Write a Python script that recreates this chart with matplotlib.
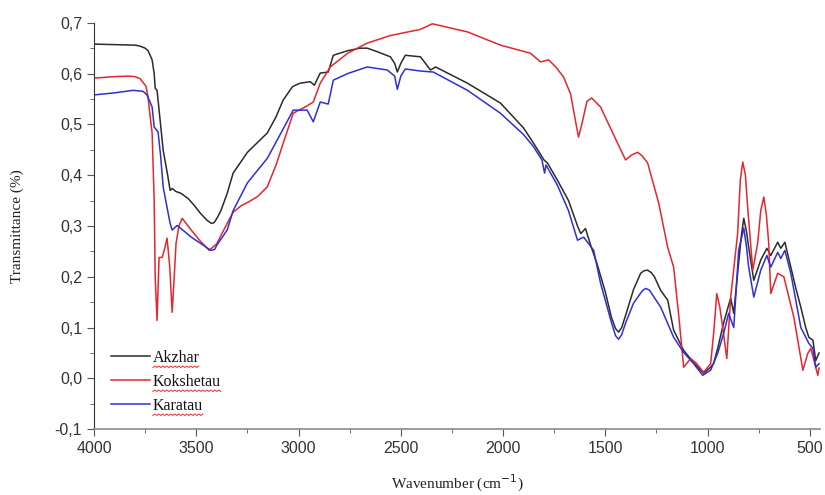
import numpy as np
import matplotlib
matplotlib.use("Agg")
import matplotlib.pyplot as plt
from matplotlib.ticker import MultipleLocator, FuncFormatter

# FTIR spectra of the three clay samples (wavenumber cm-1, transmittance)
wn_akzhar = [4000, 3900, 3800, 3775, 3750, 3736, 3716, 3706, 3701, 3692, 3685, 3662, 3640,
             3628, 3618, 3600, 3574, 3540, 3511, 3480, 3447, 3430, 3422, 3412, 3395, 3380,
             3349, 3320, 3250, 3153, 3110, 3075, 3030, 3000, 2992, 2943, 2923, 2894, 2855,
             2830, 2760, 2700, 2664, 2615, 2551, 2530, 2517, 2500, 2478, 2404, 2355, 2330,
             2174, 2013, 1900, 1851, 1800, 1783, 1734, 1680, 1636, 1620, 1597, 1570, 1540,
             1500, 1470, 1450, 1435, 1420, 1400, 1362, 1327, 1310, 1293, 1275, 1260, 1229,
             1195, 1166, 1117, 1068, 1034, 1019, 985, 970, 950, 921, 900, 887, 872, 853,
             835, 823, 810, 799, 774, 740, 710, 691, 657, 642, 622, 593, 570, 544, 520, 505,
             485, 471, 455]
t_akzhar = [0.658, 0.657, 0.656, 0.654, 0.650, 0.645, 0.627, 0.600, 0.571, 0.567, 0.540,
            0.449, 0.400, 0.370, 0.374, 0.368, 0.364, 0.354, 0.341, 0.325, 0.311, 0.306,
            0.305, 0.307, 0.318, 0.330, 0.364, 0.404, 0.445, 0.483, 0.515, 0.548, 0.574,
            0.580, 0.581, 0.584, 0.577, 0.601, 0.603, 0.636, 0.645, 0.650, 0.650, 0.643,
            0.633, 0.620, 0.603, 0.620, 0.636, 0.633, 0.607, 0.613, 0.581, 0.542, 0.493,
            0.463, 0.430, 0.424, 0.390, 0.350, 0.300, 0.285, 0.295, 0.260, 0.225, 0.170,
            0.120, 0.098, 0.091, 0.100, 0.125, 0.175, 0.207, 0.212, 0.213, 0.208, 0.200,
            0.173, 0.154, 0.095, 0.055, 0.031, 0.016, 0.010, 0.022, 0.030, 0.060, 0.110,
            0.140, 0.158, 0.128, 0.207, 0.280, 0.315, 0.290, 0.258, 0.193, 0.233, 0.256,
            0.242, 0.268, 0.256, 0.268, 0.219, 0.180, 0.140, 0.100, 0.081, 0.075, 0.035,
            0.050]

wn_kokshetau = [4000, 3900, 3830, 3800, 3775, 3746, 3736, 3727, 3716, 3706, 3701, 3692,
                3682, 3667, 3655, 3643, 3630, 3618, 3608, 3599, 3585, 3569, 3525, 3480,
                3437, 3400, 3349, 3320, 3280, 3246, 3200, 3153, 3110, 3075, 3026, 2960,
                2928, 2894, 2845, 2760, 2664, 2550, 2404, 2346, 2260, 2174, 2013, 1866,
                1817, 1777, 1740, 1704, 1670, 1645, 1631, 1615, 1590, 1567, 1523, 1460,
                1401, 1370, 1342, 1320, 1293, 1239, 1195, 1166, 1140, 1117, 1083, 1058,
                1019, 985, 970, 955, 940, 926, 906, 887, 853, 840, 828, 815, 804, 779, 755,
                740, 725, 712, 701, 691, 657, 627, 578, 534, 510, 495, 461, 455]
t_kokshetau = [0.591, 0.594, 0.595, 0.594, 0.590, 0.575, 0.554, 0.520, 0.483, 0.351,
               0.200, 0.114, 0.238, 0.238, 0.255, 0.276, 0.220, 0.130, 0.200, 0.266, 0.300,
               0.315, 0.292, 0.270, 0.252, 0.265, 0.305, 0.327, 0.340, 0.347, 0.358, 0.377,
               0.420, 0.463, 0.522, 0.536, 0.544, 0.581, 0.613, 0.640, 0.660, 0.675, 0.687,
               0.698, 0.690, 0.682, 0.656, 0.640, 0.623, 0.627, 0.612, 0.593, 0.560, 0.505,
               0.475, 0.500, 0.545, 0.552, 0.534, 0.480, 0.430, 0.440, 0.445, 0.438, 0.424,
               0.345, 0.258, 0.219, 0.120, 0.022, 0.039, 0.031, 0.012, 0.029, 0.090, 0.167,
               0.140, 0.100, 0.039, 0.160, 0.285, 0.390, 0.426, 0.400, 0.337, 0.213, 0.266,
               0.330, 0.357, 0.320, 0.266, 0.167, 0.207, 0.200, 0.120, 0.016, 0.049, 0.059,
               0.006, 0.020]

wn_karatau = [4000, 3900, 3809, 3760, 3741, 3716, 3706, 3687, 3675, 3662, 3640, 3628, 3618,
              3594, 3560, 3525, 3480, 3440, 3427, 3410, 3400, 3349, 3320, 3250, 3153, 3090,
              3026, 2958, 2928, 2894, 2855, 2830, 2760, 2664, 2566, 2530, 2517, 2500, 2478,
              2404, 2341, 2174, 2013, 1900, 1851, 1810, 1797, 1790, 1734, 1680, 1636, 1606,
              1557, 1523, 1470, 1450, 1435, 1420, 1400, 1362, 1320, 1303, 1285, 1270, 1229,
              1166, 1117, 1068, 1024, 985, 950, 921, 897, 872, 848, 823, 810, 799, 774, 740,
              710, 691, 657, 642, 622, 593, 544, 505, 485, 471, 455]
t_karatau = [0.558, 0.562, 0.567, 0.565, 0.558, 0.534, 0.495, 0.485, 0.440, 0.377, 0.330,
             0.305, 0.292, 0.301, 0.290, 0.278, 0.266, 0.255, 0.252, 0.254, 0.262, 0.292,
             0.330, 0.385, 0.433, 0.480, 0.528, 0.528, 0.505, 0.544, 0.540, 0.587, 0.600,
             0.613, 0.607, 0.595, 0.569, 0.595, 0.609, 0.605, 0.603, 0.567, 0.522, 0.480,
             0.456, 0.430, 0.404, 0.420, 0.380, 0.330, 0.272, 0.278, 0.252, 0.187, 0.110,
             0.084, 0.077, 0.086, 0.110, 0.148, 0.172, 0.177, 0.174, 0.165, 0.140, 0.081,
             0.051, 0.029, 0.006, 0.016, 0.050, 0.089, 0.128, 0.100, 0.252, 0.296, 0.260,
             0.219, 0.160, 0.213, 0.242, 0.219, 0.248, 0.236, 0.252, 0.207, 0.100, 0.069,
             0.059, 0.022, 0.029]

series = [
    ("Akzhar", wn_akzhar, t_akzhar, "#2b2b2b"),
    ("Kokshetau", wn_kokshetau, t_kokshetau, "#e4262f"),
    ("Karatau", wn_karatau, t_karatau, "#2f2fd6"),
]

fig = plt.figure(figsize=(8.25, 4.95), dpi=100)
ax = fig.add_axes([0.114, 0.133, 0.880, 0.821])

for name, wn, t, col in series:
    ax.plot(wn, t, color=col, lw=1.1, label=name)

ax.set_xlim(4000, 450)
ax.set_ylim(-0.1, 0.7)
ax.xaxis.set_major_locator(MultipleLocator(500))
ax.xaxis.set_minor_locator(MultipleLocator(250))
ax.yaxis.set_major_locator(MultipleLocator(0.1))
ax.yaxis.set_minor_locator(MultipleLocator(0.05))
ax.yaxis.set_major_formatter(FuncFormatter(lambda v, p: f"{v:.1f}".replace(".", ",")))

for s in ("top", "right"):
    ax.spines[s].set_visible(False)
ax.spines["left"].set_color("#333333")
ax.spines["bottom"].set_color("#8a8a8a")
ax.spines["bottom"].set_linewidth(1.2)
ax.tick_params(which="both", direction="out", colors="#555555",
               labelcolor="#333333", labelsize=11.5)
ax.tick_params(which="major", length=5)
ax.tick_params(which="minor", length=3)
for lbl in ax.get_xticklabels() + ax.get_yticklabels():
    lbl.set_family("Liberation Sans")

ax.set_xlabel("Wavenumber (cm$^{-1}$)", family="Liberation Serif", fontsize=11,
              color="#222222", labelpad=12)
ax.set_ylabel("Transmittance (%)", family="Liberation Serif", fontsize=11,
              color="#222222", labelpad=22)

leg = ax.legend(loc="lower left", bbox_to_anchor=(0.004, 0.002), frameon=False,
                prop={"family": "Liberation Serif", "size": 11.5},
                handlelength=2.4, handletextpad=0.2, labelspacing=0.5)
for txt in leg.get_texts():
    txt.set_color("#111111")

# red wavy underline under each legend entry
fig.canvas.draw()
renderer = fig.canvas.get_renderer()
for txt in leg.get_texts():
    bb = txt.get_window_extent(renderer)
    xs = np.arange(bb.x0, bb.x1, 2.0)
    ys = bb.y0 - 1.5 + np.where(np.arange(len(xs)) % 2 == 0, 0.0, 1.5)
    pts = fig.transFigure.inverted().transform(np.column_stack([xs, ys]))
    fig.add_artist(plt.Line2D(pts[:, 0], pts[:, 1], color="#e03030", lw=0.7))

fig.savefig("out.png", dpi=100)
